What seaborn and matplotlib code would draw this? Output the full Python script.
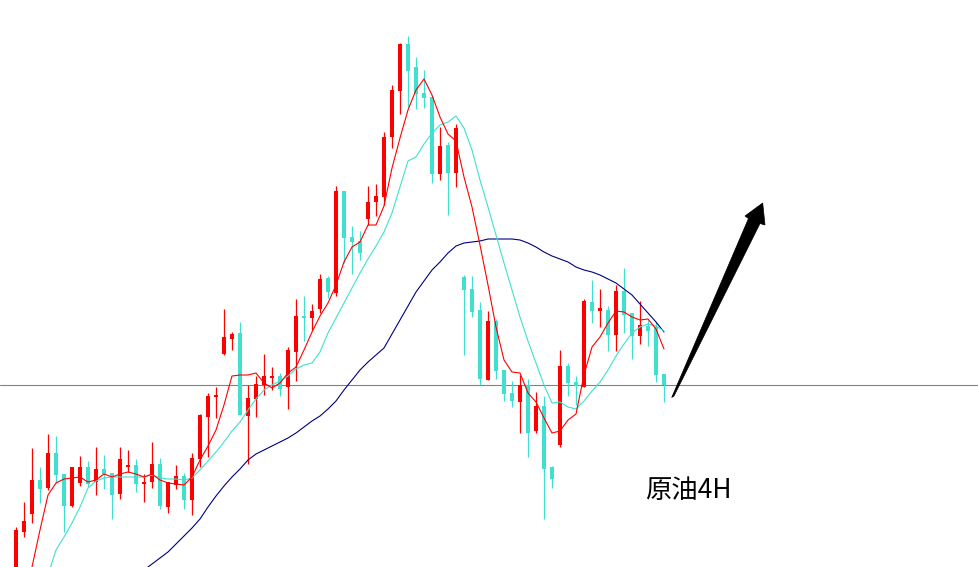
import numpy as np
import pandas as pd
import seaborn as sns
import matplotlib.pyplot as plt
from matplotlib.patches import Polygon

sns.set_style("white")
plt.rcParams['font.family'] = ['Noto Sans CJK SC', 'DejaVu Sans']

# crude oil 4H candles (price units)
opens = [25, 68, 86, 120, 112, 147, 126, 94, 117, 133, 118, 131, 127, 106, 133, 135,
         116, 118, 136, 93, 115, 124, 100, 141, 183, 203, 246, 261, 267, 184, 201, 215,
         222, 224, 213, 248, 284, 282, 291, 322, 307, 409, 363, 359, 381, 398, 403, 463,
         509, 556, 533, 507, 503, 426, 455, 427, 323, 311, 290, 220, 279, 230, 207, 198,
         215, 169, 194, 133, 155, 234, 218, 213, 298, 289, 290, 265, 309, 287, 264, 274,
         273, 226]
highs = [73, 98, 152, 133, 166, 164, 126, 133, 144, 139, 153, 145, 127, 153, 150, 141,
         126, 158, 142, 118, 135, 127, 147, 186, 207, 213, 291, 268, 278, 215, 224, 246,
         233, 227, 253, 301, 304, 296, 326, 324, 414, 409, 374, 369, 414, 416, 468, 515,
         557, 564, 543, 530, 503, 473, 458, 476, 325, 324, 298, 289, 281, 230, 219, 225,
         221, 208, 204, 134, 250, 237, 224, 301, 320, 311, 294, 315, 332, 287, 299, 280,
         278, 226]
lows = [25, 63, 77, 97, 110, 117, 68, 93, 114, 113, 105, 111, 81, 101, 128, 108,
        98, 112, 91, 87, 111, 91, 85, 133, 143, 182, 245, 250, 185, 136, 183, 205,
        210, 204, 191, 219, 259, 270, 287, 302, 304, 337, 326, 340, 375, 384, 395, 452,
        486, 493, 491, 492, 417, 420, 385, 413, 245, 283, 215, 220, 221, 199, 193, 167,
        143, 167, 81, 112, 153, 204, 195, 213, 277, 273, 249, 249, 267, 241, 256, 254,
        218, 198]
closes = [70, 79, 120, 111, 147, 125, 94, 133, 133, 116, 131, 126, 105, 141, 135, 116,
          118, 136, 94, 118, 124, 100, 142, 185, 204, 205, 263, 266, 185, 202, 216, 224,
          224, 211, 250, 284, 282, 289, 321, 308, 409, 362, 358, 347, 398, 404, 463, 510,
          556, 529, 506, 502, 426, 454, 427, 472, 310, 288, 221, 279, 229, 206, 199, 215,
          167, 194, 131, 121, 234, 217, 214, 299, 289, 292, 265, 309, 285, 264, 275, 269,
          225, 215]

# moving averages as drawn on the chart (first candle index given separately)
ma_fast_start = 1
ma_fast = [-5, 33, 70, 105, 117, 121, 122, 123, 118, 120, 126, 123, 126, 128, 126, 123,
           126, 120, 117, 116, 115, 123, 140, 154, 170, 195, 224, 225, 225, 227, 217, 212,
           217, 227, 233, 250, 268, 284, 297, 315, 338, 353, 358, 375, 375, 394, 432, 462,
           490, 510, 521, 505, 483, 466, 459, 423, 393, 355, 315, 273, 240, 228, 227, 207,
           198, 182, 167, 169, 180, 186, 225, 253, 263, 277, 289, 288, 283, 280, 281, 271,
           251]
ma_mid_start = 4
ma_mid = [25, 50, 63, 77, 93, 112, 119, 122, 123, 123, 123, 123, 123, 125, 122, 121,
          121, 120, 122, 130, 139, 148, 158, 169, 178, 190, 201, 210, 215, 219, 224, 231,
          235, 237, 248, 267, 282, 297, 312, 327, 341, 354, 368, 387, 413, 439, 443, 456,
          467, 475, 478, 484, 472, 450, 420, 393, 365, 337, 310, 283, 259, 237, 215, 197,
          198, 193, 191, 199, 209, 218, 230, 244, 256, 267, 273, 276, 274, 269]
ma_slow_start = 16
ma_slow = [30, 36, 42, 48, 56, 64, 72, 81, 93, 104, 114, 123, 131, 140, 146, 150,
           154, 158, 162, 167, 173, 179, 184, 191, 199, 210, 220, 230, 238, 245, 252, 266,
           280, 294, 308, 319, 330, 338, 347, 354, 357, 358, 359, 361, 361, 361, 361, 360,
           357, 353, 348, 344, 341, 338, 333, 330, 328, 325, 321, 317, 311, 305, 296, 287,
           278, 268]

level = 215  # horizontal support line
label = "原油4H"

UP = "#FF0000"
DOWN = "#40E0D0"

df = pd.DataFrame({"open": opens, "high": highs, "low": lows, "close": closes})
df["idx"] = np.arange(len(df))
df["bull"] = df["close"] > df["open"]
df["color"] = np.where(df["bull"], UP, DOWN)

fig = plt.figure(figsize=(9.79, 5.67), dpi=100)
ax = fig.add_axes([0, 0, 1, 1])
ax.set_xlim(-2, 120.375)
ax.set_ylim(33, 600)
ax.axis("off")

ax.axhline(level, color="#7a8490", lw=0.8, zorder=1)

ax.vlines(df["idx"], df["low"], df["high"], colors=df["color"], lw=0.9, zorder=2)
body_lo = df[["open", "close"]].min(axis=1)
body_h = (df["close"] - df["open"]).abs().clip(lower=1.5)
ax.bar(df["idx"], body_h, bottom=body_lo, width=0.62, color=df["color"],
       linewidth=0, zorder=3)

for vals, start, col in [(ma_slow, ma_slow_start, "#000080"),
                         (ma_mid, ma_mid_start, "#40E0D0"),
                         (ma_fast, ma_fast_start, "#FF0000")]:
    d = pd.DataFrame({"idx": np.arange(start, start + len(vals)), "ma": vals})
    sns.lineplot(data=d, x="idx", y="ma", ax=ax, color=col, lw=0.8,
                 estimator=None, zorder=4)

# black arrow pointing up-right
W, H = 979, 567
arrow_px = [(671.7, 397.5), (748.5, 218.5), (745, 216), (762.7, 203), (765, 225),
            (760, 223.5), (674, 396)]
arrow = Polygon([(x / W, 1 - y / H) for x, y in arrow_px], closed=True,
                transform=fig.transFigure, facecolor="black", edgecolor="black",
                lw=0.5, zorder=5)
fig.patches.append(arrow)

fig.text(688 / W, 1 - 490 / H, label, fontsize=19, color="black",
         ha="center", va="center", family=['Noto Sans CJK SC', 'DejaVu Sans'])

fig.savefig("out.png", dpi=100)
